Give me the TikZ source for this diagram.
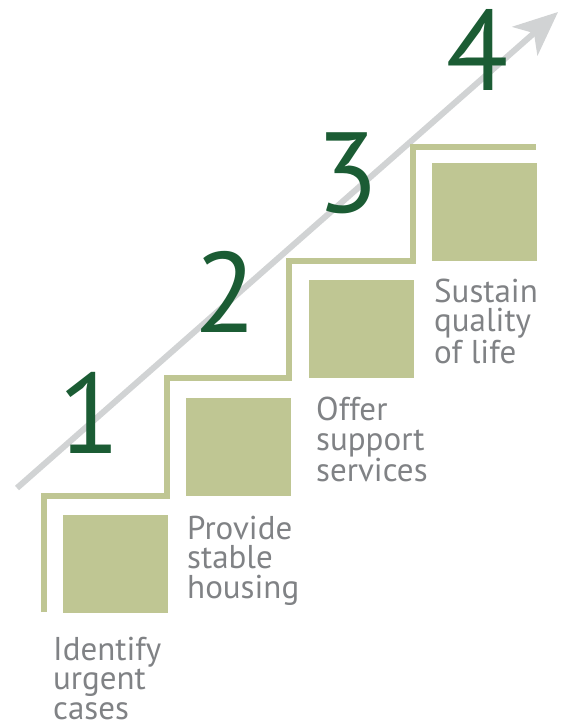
\documentclass[tikz,border=0pt]{standalone}
\usepackage{fontspec}
\setmainfont{PT Sans}
\usetikzlibrary{arrows.meta}
\definecolor{stairgreen}{RGB}{191,198,147}
\definecolor{numgreen}{RGB}{27,92,52}
\definecolor{arrowgray}{RGB}{209,211,212}
\definecolor{textgray}{RGB}{128,130,133}
\tikzset{
  stepsq/.style={fill=stairgreen, draw=none, minimum width=105pt, minimum height=98pt, inner sep=0pt, anchor=south west},
  steplabel/.style={text=textgray, font=\fontsize{33}{29.5}\selectfont, align=left, anchor=base west, inner sep=0pt},
  stepnum/.style={text=numgreen, font=\fontsize{114}{114}\selectfont, anchor=base, inner sep=0pt},
  stairline/.style={draw=stairgreen, line width=6pt},
  growarrow/.style={draw=arrowgray, line width=6pt, -{Stealth[length=44pt, width=38pt, inset=12pt]}}
}
\begin{document}
\begin{tikzpicture}[x=1pt, y=-1pt]
\useasboundingbox (0,0) rectangle (563,726);
% growth arrow
\coordinate (as) at (17,488);
\coordinate (ae) at (558,12);
\draw[growarrow] (as) -- (ae);
% stairs
\draw[stairline] (44,612) -- (44,496) -- (167,496) -- (167,378) -- (289,378) -- (289,261) -- (413,261) -- (413,147) -- (536,147);
% squares
\node[stepsq] (s1) at (63,613) {};
\node[stepsq] (s2) at (186,496) {};
\node[stepsq] (s3) at (309,378) {};
\node[stepsq] (s4) at (432,261) {};
% numbers
\node[stepnum] (n1) at (90,453) {1};
\node[stepnum] (n2) at (226,332) {2};
\node[stepnum] (n3) at (348,212) {3};
\node[stepnum] (n4) at (478,90) {4};
% labels (anchored at baseline of last line)
\node[steplabel] (t1) at (53,719) {Identify\\urgent\\cases};
\node[steplabel] (t2) at (187,598) {Provide\\stable\\housing};
\node[steplabel] (t3) at (316,481) {Offer\\support\\services};
\node[steplabel] (t4) at (434,363) {Sustain\\quality\\of life};
\end{tikzpicture}
\end{document}
